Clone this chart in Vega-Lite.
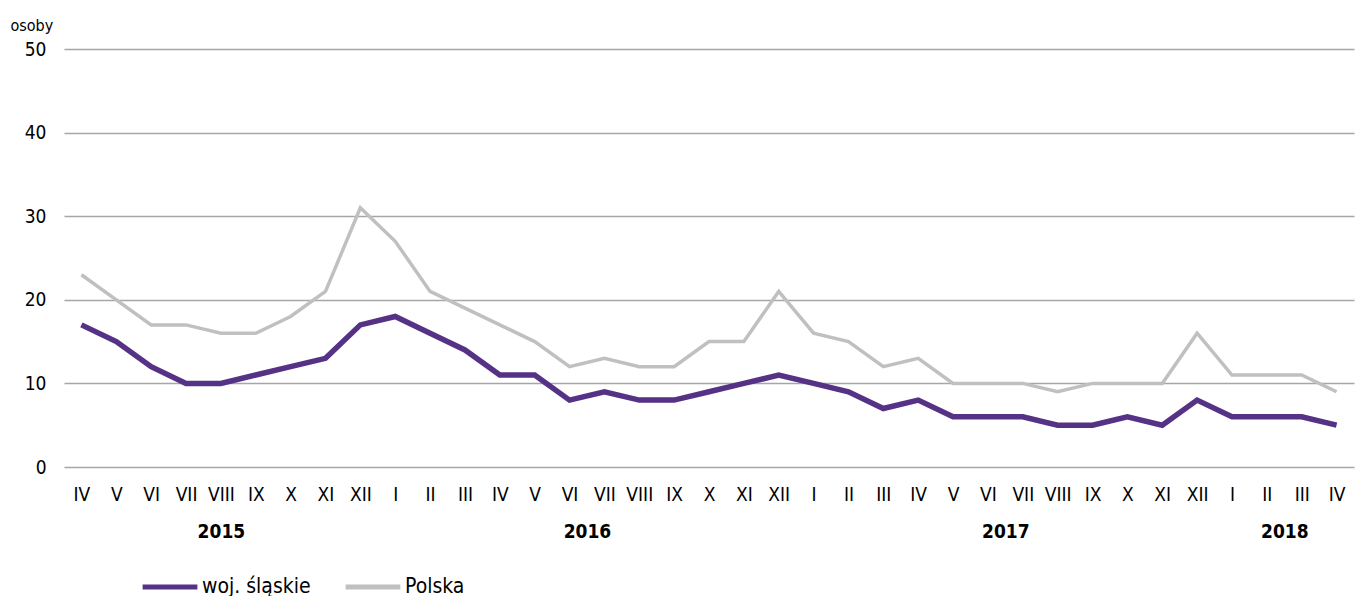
{
  "$schema": "https://vega.github.io/schema/vega-lite/v6.json",
  "autosize": "none",
  "width": 1290,
  "height": 418,
  "padding": {"left": 64, "top": 49, "right": 6, "bottom": 129},
  "background": "white",
  "config": {
    "view": {"stroke": null},
    "font": "'DejaVu Sans Condensed', 'Open Sans', sans-serif"
  },
  "datasets": {
    "months": [
      {"i": 0, "m": "IV", "slaskie": 17, "polska": 23},
      {"i": 1, "m": "V", "slaskie": 15, "polska": 20},
      {"i": 2, "m": "VI", "slaskie": 12, "polska": 17},
      {"i": 3, "m": "VII", "slaskie": 10, "polska": 17},
      {"i": 4, "m": "VIII", "slaskie": 10, "polska": 16},
      {"i": 5, "m": "IX", "slaskie": 11, "polska": 16},
      {"i": 6, "m": "X", "slaskie": 12, "polska": 18},
      {"i": 7, "m": "XI", "slaskie": 13, "polska": 21},
      {"i": 8, "m": "XII", "slaskie": 17, "polska": 31},
      {"i": 9, "m": "I", "slaskie": 18, "polska": 27},
      {"i": 10, "m": "II", "slaskie": 16, "polska": 21},
      {"i": 11, "m": "III", "slaskie": 14, "polska": 19},
      {"i": 12, "m": "IV", "slaskie": 11, "polska": 17},
      {"i": 13, "m": "V", "slaskie": 11, "polska": 15},
      {"i": 14, "m": "VI", "slaskie": 8, "polska": 12},
      {"i": 15, "m": "VII", "slaskie": 9, "polska": 13},
      {"i": 16, "m": "VIII", "slaskie": 8, "polska": 12},
      {"i": 17, "m": "IX", "slaskie": 8, "polska": 12},
      {"i": 18, "m": "X", "slaskie": 9, "polska": 15},
      {"i": 19, "m": "XI", "slaskie": 10, "polska": 15},
      {"i": 20, "m": "XII", "slaskie": 11, "polska": 21},
      {"i": 21, "m": "I", "slaskie": 10, "polska": 16},
      {"i": 22, "m": "II", "slaskie": 9, "polska": 15},
      {"i": 23, "m": "III", "slaskie": 7, "polska": 12},
      {"i": 24, "m": "IV", "slaskie": 8, "polska": 13},
      {"i": 25, "m": "V", "slaskie": 6, "polska": 10},
      {"i": 26, "m": "VI", "slaskie": 6, "polska": 10},
      {"i": 27, "m": "VII", "slaskie": 6, "polska": 10},
      {"i": 28, "m": "VIII", "slaskie": 5, "polska": 9},
      {"i": 29, "m": "IX", "slaskie": 5, "polska": 10},
      {"i": 30, "m": "X", "slaskie": 6, "polska": 10},
      {"i": 31, "m": "XI", "slaskie": 5, "polska": 10},
      {"i": 32, "m": "XII", "slaskie": 8, "polska": 16},
      {"i": 33, "m": "I", "slaskie": 6, "polska": 11},
      {"i": 34, "m": "II", "slaskie": 6, "polska": 11},
      {"i": 35, "m": "III", "slaskie": 6, "polska": 11},
      {"i": 36, "m": "IV", "slaskie": 5, "polska": 9}
    ],
    "years": [
      {"p": 4, "year": "2015"},
      {"p": 14.5, "year": "2016"},
      {"p": 26.5, "year": "2017"},
      {"p": 34.5, "year": "2018"}
    ]
  },
  "resolve": {"axis": {"x": "independent"}},
  "layer": [
    {
      "data": {"name": "months"},
      "layer": [
        {
          "mark": {"type": "line", "strokeWidth": 3.5, "strokeJoin": "miter"},
          "encoding": {
            "y": {"field": "polska", "type": "quantitative"},
            "color": {"datum": "Polska"}
          }
        },
        {
          "mark": {"type": "line", "strokeWidth": 5.5, "strokeJoin": "miter"},
          "encoding": {
            "y": {"field": "slaskie", "type": "quantitative"},
            "color": {"datum": "woj. śląskie"}
          }
        }
      ],
      "encoding": {
        "x": {
          "field": "i", "type": "quantitative",
          "scale": {"domain": [-0.5, 36.5], "nice": false, "zero": false},
          "axis": {
            "orient": "bottom",
            "values": [0,1,2,3,4,5,6,7,8,9,10,11,12,13,14,15,16,17,18,19,20,21,22,23,24,25,26,27,28,29,30,31,32,33,34,35,36],
            "labelExpr": "['IV','V','VI','VII','VIII','IX','X','XI','XII','I','II','III','IV','V','VI','VII','VIII','IX','X','XI','XII','I','II','III','IV','V','VI','VII','VIII','IX','X','XI','XII','I','II','III','IV'][datum.value]",
            "domain": false, "ticks": false, "grid": false,
            "labelFontSize": 19, "labelColor": "#000000", "labelPadding": 18,
            "labelFlush": false, "labelOverlap": false, "title": null
          }
        },
        "y": {
          "type": "quantitative",
          "scale": {"domain": [0, 50], "nice": false},
          "axis": {
            "values": [0, 10, 20, 30, 40, 50],
            "domain": false, "ticks": false,
            "gridColor": "#a6a6a6", "gridWidth": 1.5,
            "labelFontSize": 19, "labelColor": "#000000", "labelPadding": 18,
            "title": "osoby", "titleAngle": 0, "titleAlign": "left", "titleBaseline": "bottom",
            "titleX": -54, "titleY": -16, "titleFontSize": 16, "titleFontWeight": "normal",
            "titleColor": "#000000"
          }
        },
        "color": {
          "type": "nominal",
          "scale": {"domain": ["woj. śląskie", "Polska"], "range": ["#553285", "#c0c0c0"]},
          "legend": {
            "title": null, "orient": "none", "direction": "horizontal",
            "legendX": 76, "legendY": 508,
            "symbolType": "stroke", "symbolSize": 3000, "symbolStrokeWidth": 5,
            "labelFontSize": 21, "labelColor": "#000000", "labelOffset": 2,
            "columnPadding": 24
          }
        }
      }
    },
    {
      "data": {"name": "years"},
      "mark": {"type": "text", "opacity": 0},
      "encoding": {
        "x": {
          "field": "p", "type": "quantitative",
          "scale": {"domain": [-0.5, 36.5], "nice": false, "zero": false},
          "axis": {
            "orient": "bottom",
            "values": [4, 14.5, 26.5, 34.5],
            "labelExpr": "datum.value == 4 ? '2015' : datum.value == 14.5 ? '2016' : datum.value == 26.5 ? '2017' : '2018'",
            "domain": false, "ticks": false, "grid": false,
            "labelFontSize": 19, "labelFontWeight": "bold", "labelColor": "#000000",
            "labelPadding": 55, "labelFlush": false, "labelOverlap": false, "title": null
          }
        },
        "text": {"field": "year"}
      }
    }
  ]
}
